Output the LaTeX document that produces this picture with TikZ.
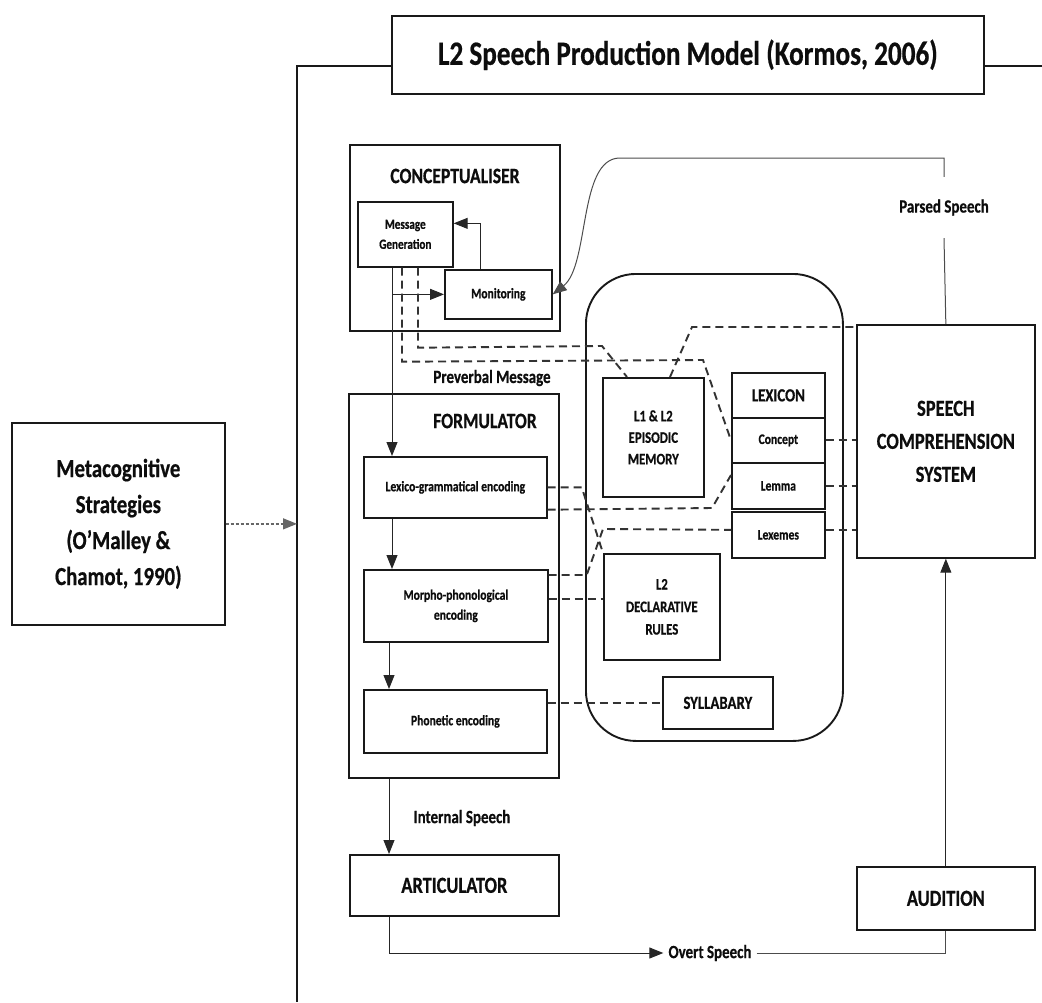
\documentclass[tikz,border=0pt]{standalone}
\usepackage{fontspec}
\setmainfont{Carlito}[FakeStretch=0.8,FakeBold=0.6]
\usetikzlibrary{arrows.meta,calc}
\begin{document}
\begin{tikzpicture}[x=1pt,y=-1pt,
  bx/.style={draw=black!90, line width=1.7pt, inner sep=0pt, anchor=north west, align=center, text=black!95},
  tx/.style 2 args={font=\bfseries\fontsize{#1}{#2}\selectfont},
  lbl/.style={inner sep=0pt, align=center, text=black!95},
  arr/.style={line width=1pt, draw=black!85, -{Triangle[length=14pt,width=11pt]}},
  ln/.style={line width=1pt, draw=black!70},
  dsh/.style={line width=1.9pt, draw=black!80, dash pattern=on 8pt off 5pt},
  dotline/.style={line width=1.3pt, draw=black!60, dash pattern=on 3pt off 2pt},
  frm/.style={line width=1.8pt, draw=black!90}]

\useasboundingbox (0,0) rectangle (1042,1002);

% store (rounded container)
\node[draw=black!90, line width=1.9pt, rounded corners=50pt, inner sep=0pt, anchor=north west,
      minimum width=257, minimum height=467] (store) at (585,273) {};

% boxes
\node[bx, tx={34}{40}, minimum width=592, minimum height=78] (title) at (391,15) {L2 Speech Production Model (Kormos, 2006)};
\node[bx, tx={26}{36}, minimum width=213, minimum height=202] (meta) at (11,422) {Metacognitive\\Strategies\\(O’Malley \&\\Chamot, 1990)};
\node[bx, minimum width=210, minimum height=186] (concept) at (349,144) {};
\node[lbl, tx={22}{26}] (conceptlbl) at (455,176) {CONCEPTUALISER};
\node[bx, tx={14}{20}, minimum width=95, minimum height=65] (msggen) at (357,201) {Message\\Generation};
\node[bx, tx={14.5}{18}, minimum width=107, minimum height=49] (monitor) at (444,269) {Monitoring};
\node[bx, minimum width=210, minimum height=384] (formulator) at (348,393) {};
\node[lbl, tx={22}{26}] (formlbl) at (485,421) {FORMULATOR};
\node[bx, tx={14.5}{18}, minimum width=183, minimum height=61] (lexgram) at (363,456) {Lexico-grammatical encoding};
\node[bx, tx={14.5}{20}, minimum width=184, minimum height=72] (morpho) at (363,569) {Morpho-phonological\\encoding};
\node[bx, tx={14.5}{18}, minimum width=183, minimum height=63] (phonetic) at (363,689) {Phonetic encoding};
\node[bx, tx={23}{28}, minimum width=209, minimum height=61] (artic) at (349,854) {ARTICULATOR};
\node[bx, tx={23}{28}, minimum width=178, minimum height=63] (audition) at (856,866) {AUDITION};
\node[bx, tx={23}{33}, minimum width=178, minimum height=233] (speech) at (856,324) {SPEECH\\COMPREHENSION\\SYSTEM};
\node[bx, tx={16}{21.5}, minimum width=101, minimum height=119] (episodic) at (602,377) {L1 \& L2\\EPISODIC\\MEMORY};
\node[bx, tx={18.5}{22}, minimum width=93, minimum height=45] (lexicon) at (731,372) {LEXICON};
\node[bx, tx={14.5}{18}, minimum width=93, minimum height=45] (conceptbox) at (731,417) {Concept};
\node[bx, tx={14.5}{18}, minimum width=93, minimum height=46] (lemma) at (731,462) {Lemma};
\node[bx, tx={14.5}{18}, minimum width=93, minimum height=46] (lexemes) at (731,511) {Lexemes};
\node[bx, tx={16}{22.5}, minimum width=116, minimum height=106] (declar) at (603,553) {L2\\DECLARATIVE\\RULES};
\node[bx, tx={18.5}{22}, minimum width=110, minimum height=52] (syll) at (662,676) {SYLLABARY};

% labels
\node[lbl, tx={18.7}{22}, minimum height=61] (parsed) at (944,207.5) {Parsed Speech};
\node[lbl, tx={18.7}{22}] (preverbal) at (492,378) {Preverbal Message};
\node[lbl, tx={18.7}{22}] (internal) at (462,818) {Internal Speech};
\node[lbl, tx={18.7}{22}, inner xsep=5pt] (overt) at (710,953) {Overt Speech};

% frame
\coordinate (tl) at (391,66);
\coordinate (tr) at (983,66);
\coordinate (edge) at (1042,66);
\coordinate (fl) at (297,1002);
\draw[frm] (tl) -| (fl);
\draw[frm] (tr) -- (edge);
\draw[dotline, -{Triangle[length=14pt,width=11pt]}] (meta.east) -- (meta.east -| fl);

% solid flow
\coordinate (a1) at ($(msggen.south west)+(35,0)$);
\draw[arr] (a1) -- (a1 |- lexgram.north);
\draw[arr] (a1 |- monitor.west) -- (monitor.west);
\draw[arr] ($(monitor.north west)+(36,0)$) |- ($(msggen.east)+(0,-11)$);
\draw[arr] (a1 |- lexgram.south) -- (a1 |- morpho.north);
\coordinate (b1) at ($(morpho.south west)+(26,0)$);
\draw[arr] (b1) -- (b1 |- phonetic.north);
\draw[arr] (b1 |- formulator.south) -- (b1 |- artic.north);
\draw[arr] (b1 |- artic.south) |- (overt.west);
\draw[ln] (overt.east) -| (audition.south);
\draw[arr] (audition.north) -- (speech.south);
\draw[ln] (speech.north) -- (parsed.south);
\coordinate (cv) at (620,158);
\draw[ln, -{Triangle[length=14pt,width=11pt]}] (parsed.north) -- (parsed.north |- cv) -- (cv)
   .. controls (578,158) and (590,265) .. (monitor.east);

% dashed links
\draw[dsh] ($(msggen.south west)+(61,0)$) -- ++(0,80) -- (602,346) -- ($(episodic.north west)+(25,0)$);
\draw[dsh] ($(msggen.south west)+(45,0)$) -- ++(0,94) -- (703,360) -- (conceptbox.west);
\draw[dsh] ($(episodic.north west)+(68,0)$) -- (692,327) -- ($(speech.north west)+(0,3)$);
\draw[dsh] (conceptbox.east) -- (conceptbox.east -| speech.west);
\draw[dsh] (lemma.east) -- (lemma.east -| speech.west);
\draw[dsh] ($(lexemes.east)+(0,-5)$) coordinate (x1) -- (x1 -| speech.west);
\draw[dsh] (lexgram.east) -- ++(34,0) -- (declar.north west);
\draw[dsh] ($(lexgram.south east)+(0,-9)$) -- (712,508) -- ($(lemma.north west)+(0,13)$);
\draw[dsh] ($(morpho.north east)+(0,6)$) -- ++(38,0) -- (603,529) -- ($(lexemes.west)+(0,-5)$);
\draw[dsh] ($(morpho.north east)+(0,30)$) coordinate (m2) -- (m2 -| declar.west);
\draw[dsh] (syll.west -| phonetic.east) -- (syll.west);
\end{tikzpicture}
\end{document}
